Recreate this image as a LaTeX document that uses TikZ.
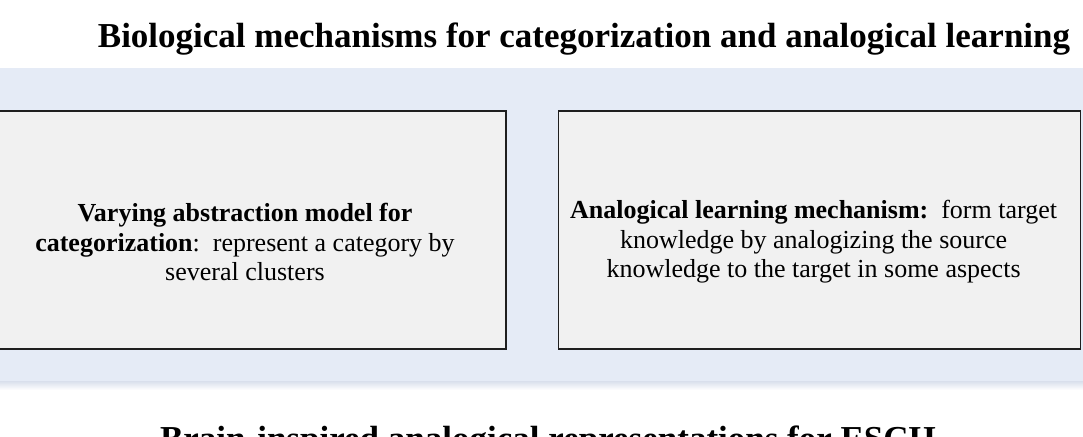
\documentclass[tikz,border=0pt]{standalone}
\usepackage{fontspec}
\setmainfont{Liberation Serif}
\usetikzlibrary{positioning}
\definecolor{bandblue}{HTML}{E5EBF6}
\definecolor{bandedge}{HTML}{D9DFEC}
\definecolor{boxgray}{HTML}{F1F1F1}
\definecolor{edgedark}{HTML}{1F1F1F}

\begin{document}
\begin{tikzpicture}[x=1pt, y=1pt,
    headerStyle/.style={
        inner sep=0pt, font=\bfseries\fontsize{35}{40}\selectfont
    },
    bandStyle/.style={
        rectangle, fill=bandblue, inner sep=0pt,
        minimum width=1110pt, minimum height=313pt
    },
    boxStyle/.style={
        rectangle, draw=edgedark, fill=boxgray, line width=1.6pt, inner sep=0pt,
        minimum width=522pt, minimum height=238pt
    },
    textStyle/.style={
        align=center, inner sep=0pt, font=\fontsize{26}{29.5}\selectfont
    }
]
    \useasboundingbox (0,0) rectangle (1083,436);
    \clip (0,0) rectangle (1083,436);

    % Header
    \node[headerStyle, anchor=base] (top) at (584,388)
        {Biological mechanisms for categorization and analogical learning};

    % Band behind the boxes
    \shade[top color=bandedge, bottom color=white] (-10,55) rectangle (1093,46);
    \node[bandStyle] (band) at (541.5,211.5) {};

    % Boxes
    \node[boxStyle] (vam) at (245,206) {};
    \node[boxStyle, right=51pt of vam] (alm) {};

    \node[textStyle, yshift=-12pt] (vamText) at (vam.center) {
        \textbf{Varying abstraction model for}\\
        \textbf{categorization}:\ \ represent a category by\\
        several clusters
    };
    \node[textStyle, yshift=-12pt, xshift=-6pt] (almText) at (alm.center) {
        \textbf{Analogical learning mechanism:}\ \ form target\\
        knowledge by analogizing the source\\
        knowledge to the target in some aspects
    };

    % Next header, cut by the page edge
    \node[headerStyle, anchor=base] (next) at (548,-14)
        {Brain-inspired analogical representations for ESCH};
\end{tikzpicture}
\end{document}
